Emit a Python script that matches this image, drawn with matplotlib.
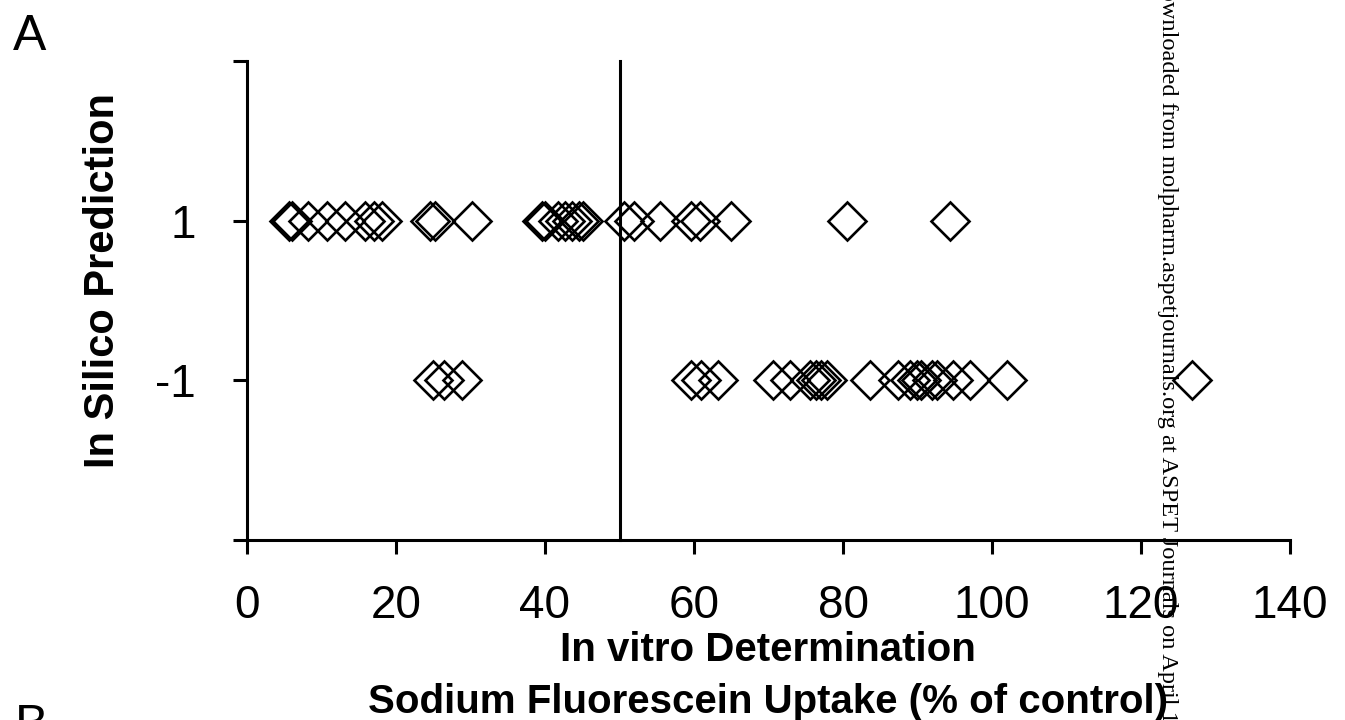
import matplotlib
matplotlib.use("Agg")
import matplotlib.pyplot as plt

# Data
pred_pos_x = [5.6, 6.0, 8.2, 10.7, 13.2, 15.8, 17.0, 18.1,
              24.5, 25.3, 30.2,
              39.6, 40.0, 41.8, 42.7, 43.6, 44.5, 45.1,
              50.6, 51.9, 55.5, 59.6, 60.8, 65.0, 80.5, 94.4]
pred_neg_x = [24.9, 26.5, 28.8, 59.6, 61.0, 63.2,
              70.6, 72.9, 75.6, 76.4, 77.0, 77.8, 83.6,
              87.4, 89.0, 89.9, 90.5, 91.9, 92.6, 94.8, 97.0, 102.0, 126.8]
threshold = 50
x_ticks = [0, 20, 40, 60, 80, 100, 120, 140]
y_ticks = [-3, -1, 1, 3]
y_ticklabels = ["", "-1", "1", ""]

plt.rcParams['font.family'] = ['Liberation Sans', 'DejaVu Sans']

W, H = 1345, 720
fig = plt.figure(figsize=(W / 100, H / 100), dpi=100)
ax = fig.add_axes([247 / W, 1 - 540 / H, (1290 - 247) / W, (540 - 61) / H])

mk = dict(marker='D', ms=19, mfc='none', mec='black', mew=1.9, ls='none', clip_on=False)
ax.plot(pred_pos_x, [1] * len(pred_pos_x), **mk)
ax.plot(pred_neg_x, [-1] * len(pred_neg_x), **mk)
ax.plot([threshold, threshold], [-3, 3], color='black', lw=2.2, clip_on=False, zorder=3)

ax.set_xlim(0, 140)
ax.set_ylim(-3, 3)
ax.set_xticks(x_ticks)
ax.set_yticks(y_ticks)
ax.set_yticklabels(y_ticklabels)
for s in ['top', 'right']:
    ax.spines[s].set_visible(False)
for s in ['left', 'bottom']:
    ax.spines[s].set_linewidth(2.2)
ax.tick_params(axis='both', direction='out', length=10, width=2.2, labelsize=33)
ax.tick_params(axis='x', pad=22)
ax.tick_params(axis='y', pad=27)

fig.text(768 / W, 1 - 661 / H, "In vitro Determination", ha='center', va='baseline',
         fontsize=29, fontweight='bold')
fig.text(768 / W, 1 - 713 / H, "Sodium Fluorescein Uptake (% of control)", ha='center',
         va='baseline', fontsize=29, fontweight='bold')
fig.text(103 / W, 1 - 281 / H, "In Silico Prediction", rotation=90, ha='center', va='center',
         fontsize=30, fontweight='bold')

fig.text(13 / W, 1 - 50 / H, "A", ha='left', va='baseline', fontsize=36)
fig.text(15 / W, 1 - 740 / H, "B", ha='left', va='baseline', fontsize=36)

fig.text(1162 / W, 1 + 29 / H,
         "Downloaded from molpharm.aspetjournals.org at ASPET Journals on April 17, 2024",
         rotation=-90, rotation_mode='anchor', ha='left', va='baseline',
         fontsize=17.6, family=['Liberation Serif', 'DejaVu Serif'], zorder=10)

fig.savefig("out.png", dpi=100)
